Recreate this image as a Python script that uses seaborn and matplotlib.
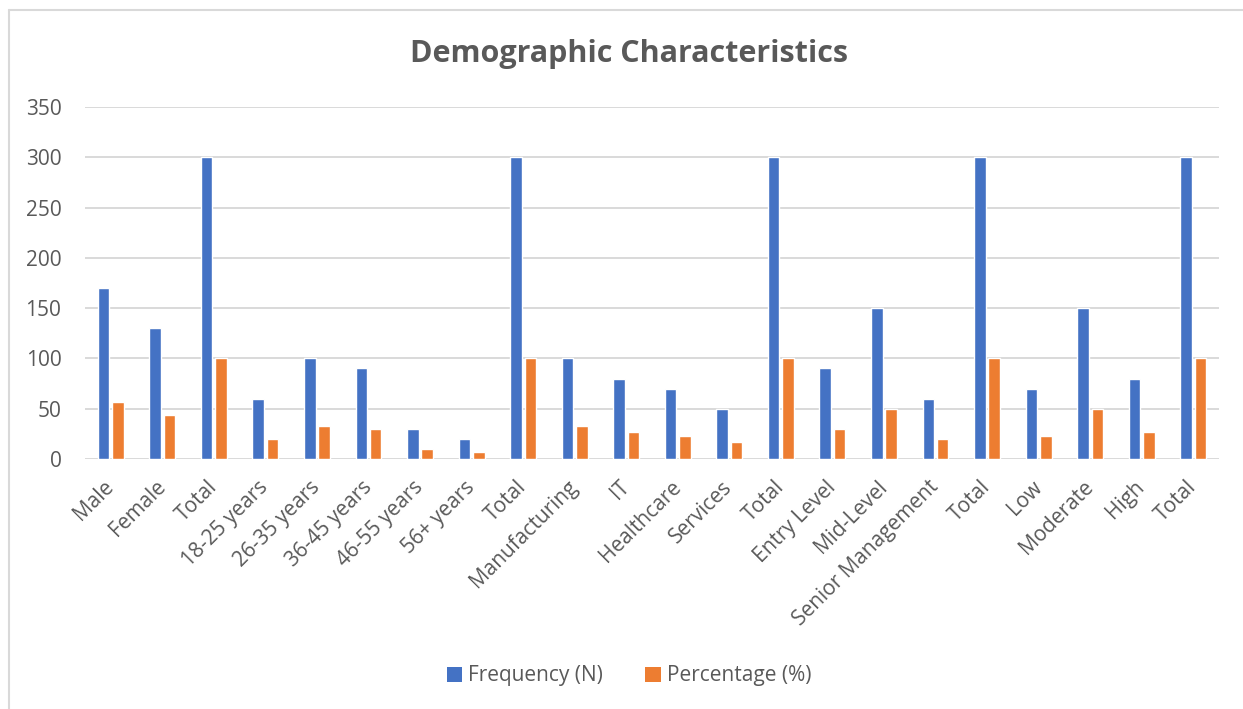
import matplotlib
matplotlib.use("Agg")
import matplotlib.pyplot as plt
from matplotlib.patches import Patch
from matplotlib.lines import Line2D
import pandas as pd
import seaborn as sns

# Survey demographic breakdown (frequency and percentage per group)
categories = [
    "Male", "Female", "Total",
    "18-25 years", "26-35 years", "36-45 years", "46-55 years", "56+ years", "Total",
    "Manufacturing", "IT", "Healthcare", "Services", "Total",
    "Entry Level", "Mid-Level", "Senior Management", "Total",
    "Low", "Moderate", "High", "Total",
]
frequency = [170, 130, 300,
             60, 100, 90, 30, 20, 300,
             100, 80, 70, 50, 300,
             90, 150, 60, 300,
             70, 150, 80, 300]
percentage = [56.7, 43.3, 100,
              20.0, 33.3, 30.0, 10.0, 6.7, 100,
              33.3, 26.7, 23.3, 16.7, 100,
              30.0, 50.0, 20.0, 100,
              23.3, 50.0, 26.7, 100]
series_names = ["Frequency (N)", "Percentage (%)"]
y_ticks = [0, 50, 100, 150, 200, 250, 300, 350]

BLUE = "#4472C4"
ORANGE = "#ED7D31"
TEXT = "#595959"
GRID = "#D9D9D9"

sns.set_theme(style="white")
plt.rcParams["font.family"] = ["Open Sans", "DejaVu Sans"]

n = len(categories)
positions = list(range(n))
df = pd.DataFrame({
    "pos": positions * 2,
    "value": frequency + percentage,
    "series": [series_names[0]] * n + [series_names[1]] * n,
})

fig = plt.figure(figsize=(12.43, 7.09), dpi=100)
fig.patch.set_facecolor("white")
ax = fig.add_axes([85 / 1243, 1 - 459 / 709, (1219 - 85) / 1243, (459 - 107) / 709])

sns.barplot(data=df, x="pos", y="value", hue="series", order=positions,
            hue_order=series_names, palette=[BLUE, ORANGE], saturation=1,
            width=0.56, gap=0.2, legend=False, ax=ax)

ax.set_xlim(-0.5, n - 0.5)
ax.set_ylim(0, 350)
ax.set_yticks(y_ticks)
ax.set_yticklabels([str(t) for t in y_ticks])
ax.set_xticks(positions)
ax.set_xticklabels(categories, rotation=45, ha="right", va="center",
                   rotation_mode="anchor")
ax.set_xlabel("")
ax.set_ylabel("")
ax.yaxis.grid(True, color=GRID, linewidth=1.4)
ax.set_axisbelow(True)
for s in ax.spines.values():
    s.set_visible(False)
ax.tick_params(axis="both", length=0, colors=TEXT, labelsize=15)
ax.tick_params(axis="y", pad=17)
ax.tick_params(axis="x", pad=18)

fig.text(629 / 1243, 1 - 54 / 709, "Demographic Characteristics",
         ha="center", va="center", fontsize=22, fontweight="bold", color=TEXT)

handles = [Patch(facecolor=BLUE, edgecolor="none"),
           Patch(facecolor=ORANGE, edgecolor="none")]
leg = fig.legend(handles, series_names, loc="center",
                 bbox_to_anchor=(0.506, 1 - 676 / 709), ncol=2, frameon=False,
                 fontsize=15, handlelength=0.75, handleheight=0.75,
                 handletextpad=0.3, columnspacing=2.0)
for t in leg.get_texts():
    t.set_color(TEXT)

# chart-area frame (top and left edges)
fig.add_artist(Line2D([8.5 / 1243, 8.5 / 1243], [0, 1 - 9.5 / 709],
                      transform=fig.transFigure, color=GRID, linewidth=1.5))
fig.add_artist(Line2D([8.5 / 1243, 1], [1 - 9.5 / 709, 1 - 9.5 / 709],
                      transform=fig.transFigure, color=GRID, linewidth=1.5))

fig.savefig("out.png", dpi=100, facecolor="white")
